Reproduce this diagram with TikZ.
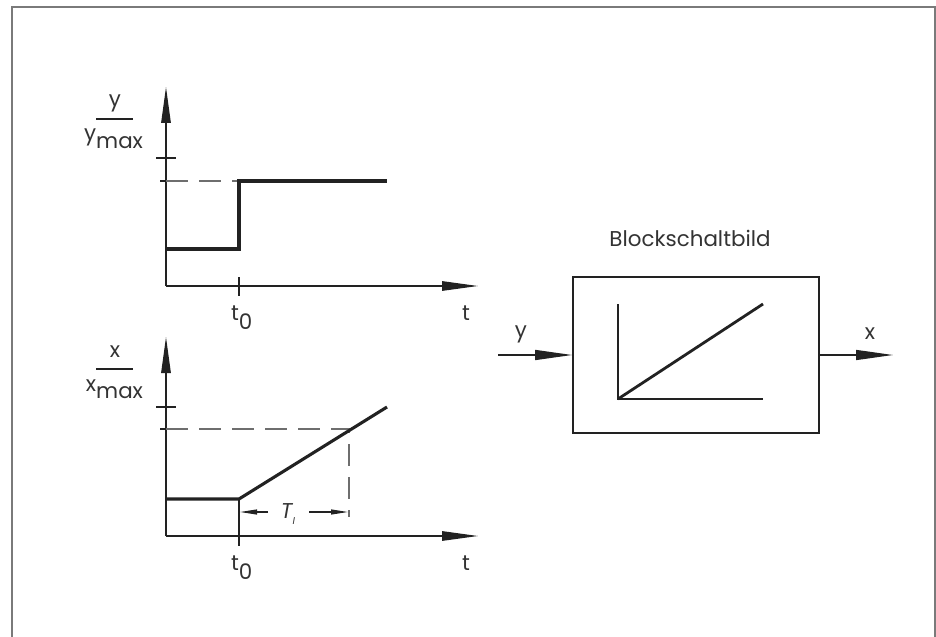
\documentclass[tikz,border=0pt]{standalone}
\usepackage{fontspec}
\setmainfont{Poppins}
\usetikzlibrary{arrows.meta}
\definecolor{ink}{HTML}{222222}
\definecolor{txt}{HTML}{333333}
\definecolor{framec}{HTML}{7A7A7A}
\definecolor{dashc}{HTML}{6E6E6E}
\tikzset{
  axis/.style={draw=ink, line width=1.3bp, -{Triangle[length=36bp,width=9.5bp]}},
  curve/.style={draw=ink, line width=3.1bp, line join=miter},
  thinline/.style={draw=ink, line width=1.3bp},
  guide/.style={draw=dashc, line width=1.2bp, dash pattern=on 22bp off 11bp},
  dimarrow/.style={draw=ink, line width=1.1bp, -{Triangle[length=17bp,width=5bp]}},
  sigarrow/.style={draw=ink, line width=1.4bp, -{Triangle[length=37bp,width=10bp]}},
  lbl/.style={font=\fontsize{21.5}{25}\selectfont, text=txt, inner sep=0pt, outer sep=0pt},
  blockbox/.style={draw=ink, line width=1.8bp, minimum width=246bp, minimum height=156bp, inner sep=0pt}
}
\begin{document}
\begin{tikzpicture}[x=1bp,y=-1bp]
\useasboundingbox (0,0) rectangle (936,637);
% frame
\draw[framec, line width=2bp] (12,637) -- (12,7) -- (935,7) -- (935,637);

% ===== top chart =====
\coordinate (o1) at (166,286);
\coordinate (ytip1) at (166,87);
\coordinate (xtip1) at (478,286);
\draw[axis] (o1) -- (ytip1);
\draw[axis] (o1) -- (xtip1);
\draw[thinline] (156,158) -- (176,158);
\draw[thinline] (160,181) -- (171,181);
\draw[guide] (166,181) -- (239,181);
\draw[curve] (166,249) -- (239,249) -- (239,181) -- (387,181);
\draw[thinline] (239,277) -- (239,296);
% labels
\node[lbl, anchor=base] (ynum) at (115,107) {y};
\draw[thinline, line width=1.1bp] (96,119) -- (133,119);
\node[lbl, anchor=base east] (yden) at (143,141) {y\raisebox{-0.33em}{max}};
\node[lbl, anchor=base west] (t0a) at (231,320) {t\raisebox{-0.45em}{0}};
\node[lbl, anchor=base] (ta) at (466,320) {t};

% ===== bottom chart =====
\coordinate (o2) at (166,536);
\coordinate (ytip2) at (166,337);
\coordinate (xtip2) at (478,536);
\draw[axis] (o2) -- (ytip2);
\draw[axis] (o2) -- (xtip2);
\draw[thinline] (156,407) -- (176,407);
\draw[thinline] (160,429) -- (171,429);
\draw[guide] (166,429) -- (349,429) -- (349,517);
\draw[thinline, line width=1.1bp] (239,499) -- (239,546);
\draw[curve] (166,499) -- (239,499) -- (387,407);
\draw[dimarrow] (268,512) -- (240,512);
\draw[dimarrow] (309,512) -- (348,512);
\node[lbl, anchor=base] (ti) at (288,518) {\itshape T\raisebox{-0.3em}{\fontsize{10}{11}\selectfont I}};
% labels
\node[lbl, anchor=base] (xnum) at (115,357) {x};
\draw[thinline, line width=1.1bp] (96,369) -- (133,369);
\node[lbl, anchor=base east] (xden) at (143,391) {x\raisebox{-0.33em}{max}};
\node[lbl, anchor=base west] (t0b) at (231,570) {t\raisebox{-0.45em}{0}};
\node[lbl, anchor=base] (tb) at (466,570) {t};

% ===== block diagram =====
\node[lbl, anchor=base] (title) at (690,247) {Blockschaltbild};
\node[blockbox] (blk) at (696,355) {};
\coordinate (in) at (498,355);
\coordinate (out) at (893,355);
\draw[sigarrow] (in) -- (blk.west);
\draw[sigarrow] (blk.east) -- (out);
\node[lbl, anchor=base] (ylbl) at (521,337) {y};
\node[lbl, anchor=base] (xlbl) at (870,339) {x};
\coordinate (bo) at (618,399);
\draw[thinline] (618,304) -- (bo) -- (763,399);
\draw[curve, line width=2.8bp] (bo) -- (763,304);
\end{tikzpicture}
\end{document}
